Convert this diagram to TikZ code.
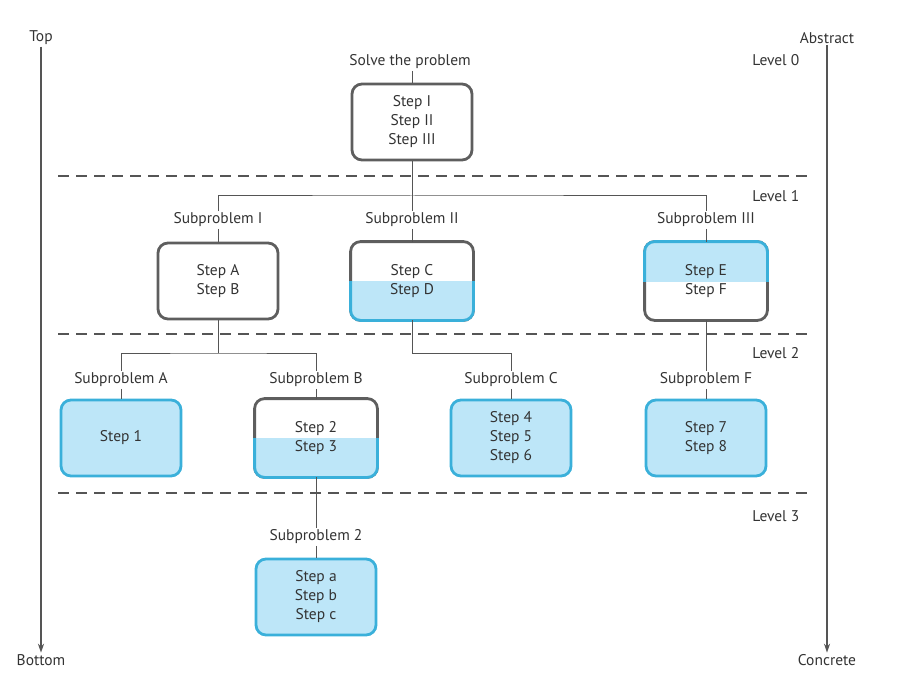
\documentclass[tikz,border=0pt]{standalone}
\usepackage{fontspec}
\setmainfont{PT Sans}
\usetikzlibrary{arrows.meta,backgrounds}
\definecolor{txt}{HTML}{333333}
\definecolor{gborder}{HTML}{5E5E5E}
\definecolor{bborder}{HTML}{3AB0DA}
\definecolor{bfill}{HTML}{BDE6F8}
\definecolor{lnc}{HTML}{555555}
\begin{document}
\begin{tikzpicture}[x=1pt,y=-1pt,
  font=\fontsize{15.5}{19}\selectfont, text=txt,
  box/.style={minimum width=120pt, minimum height=76pt, rounded corners=10pt, line width=2.8pt, align=center, inner sep=0pt},
  graybox/.style={box, draw=gborder, fill=white},
  bluebox/.style={box, draw=bborder, fill=bfill},
  boxshape/.style={rounded corners=10pt, line width=2.8pt},
  lbl/.style={inner sep=1.5pt},
  conn/.style={draw=lnc, line width=1pt},
  sep/.style={draw=lnc, line width=1.2pt, dash pattern=on 11pt off 7pt},
  axis/.style={draw=lnc, line width=1.5pt, -{Stealth[length=9pt,width=6pt]}}
]
\useasboundingbox (0,0) rectangle (918,679);

% axes
\node[lbl] (ltop) at (41,38) {Top};
\node[lbl] (lbot) at (41,660) {Bottom};
\draw[axis] (ltop) -- (lbot);
\node[lbl] (rtop) at (827,38) {Abstract};
\node[lbl] (rbot) at (827,660) {Concrete};
\draw[axis] (rtop) -- (rbot);

% level labels
\node[lbl, anchor=east] (lv0) at (801,60) {Level 0};
\node[lbl, anchor=east] (lv1) at (801,196) {Level 1};
\node[lbl, anchor=east] (lv2) at (801,353) {Level 2};
\node[lbl, anchor=east] (lv3) at (801,516) {Level 3};

% separators
\coordinate (d1a) at (58,176); \coordinate (d1b) at (812,176);
\coordinate (d2a) at (58,334); \coordinate (d2b) at (812,334);
\coordinate (d3a) at (58,493); \coordinate (d3b) at (812,493);
\draw[sep] (d1a) -- (d1b);
\draw[sep] (d2a) -- (d2b);
\draw[sep] (d3a) -- (d3b);

% level 0
\node[lbl] (solve) at (410,62) {Solve the problem};
\node[graybox] (top) at (412,122) {Step I\\Step II\\Step III};

% level 1
\node[lbl] (spI) at (218,220) {Subproblem I};
\node[lbl] (spII) at (412,220) {Subproblem II};
\node[lbl] (spIII) at (706,220) {Subproblem III};
\node[graybox] (bI) at (218,281) {Step A\\Step B};
\node[box] (bII) at (412,281) {Step C\\Step D};
\node[box] (bIII) at (706,281) {Step E\\Step F};

% level 2
\node[lbl] (spA) at (121,380) {Subproblem A};
\node[lbl] (spB) at (316,380) {Subproblem B};
\node[lbl] (spC) at (511,380) {Subproblem C};
\node[lbl] (spF) at (706,380) {Subproblem F};
\node[bluebox] (bA) at (121,438) {Step 1};
\node[box] (bB) at (316,438) {Step 2\\Step 3};
\node[bluebox] (bC) at (511,438) {Step 4\\Step 5\\Step 6};
\node[bluebox] (bF) at (706,438) {Step 7\\Step 8};

% level 3
\node[lbl] (sp2) at (316,537) {Subproblem 2};
\node[bluebox] (b2) at (316,597) {Step a\\Step b\\Step c};

% split box backgrounds
\begin{scope}[on background layer]
  % box II: top gray, bottom blue
  \draw[boxshape, draw=gborder, fill=white] (bII.south west) rectangle (bII.north east);
  \begin{scope}
    \clip ([xshift=-6pt]bII.west) rectangle ([shift={(6pt,-6pt)}]bII.south east);
    \draw[boxshape, draw=bborder, fill=bfill] (bII.south west) rectangle (bII.north east);
  \end{scope}
  % box III: top blue, bottom gray
  \draw[boxshape, draw=gborder, fill=white] (bIII.south west) rectangle (bIII.north east);
  \begin{scope}
    \clip ([xshift=-6pt]bIII.west) rectangle ([shift={(6pt,6pt)}]bIII.north east);
    \draw[boxshape, draw=bborder, fill=bfill] (bIII.south west) rectangle (bIII.north east);
  \end{scope}
  % box B: top gray, bottom blue
  \draw[boxshape, draw=gborder, fill=white] (bB.south west) rectangle (bB.north east);
  \begin{scope}
    \clip ([xshift=-6pt]bB.west) rectangle ([shift={(6pt,-6pt)}]bB.south east);
    \draw[boxshape, draw=bborder, fill=bfill] (bB.south west) rectangle (bB.north east);
  \end{scope}
\end{scope}

% connectors
\coordinate (j1) at (412,196);
\coordinate (j2) at (218,353);
\coordinate (j3) at (412,353);
\draw[conn] (solve.south -| top.north) -- (top);
\draw[conn] (top) -- (j1);
\draw[conn] (spI.north) |- (j1) -| (spIII.north);
\draw[conn] (j1) -- (spII);
\draw[conn] (spI) -- (bI);
\draw[conn] (spII) -- (bII);
\draw[conn] (spIII) -- (bIII);

\draw[conn] (bI) -- (j2);
\draw[conn] (spA.north) |- (j2) -| (spB.north);
\draw[conn] (bII) -- (j3);
\draw[conn] (j3) -| (spC.north);
\draw[conn] (bIII) -- (spF);
\draw[conn] (spA) -- (bA);
\draw[conn] (spB) -- (bB);
\draw[conn] (spC) -- (bC);
\draw[conn] (spF) -- (bF);

\draw[conn] (bB) -- (sp2);
\draw[conn] (sp2) -- (b2);
\end{tikzpicture}
\end{document}
